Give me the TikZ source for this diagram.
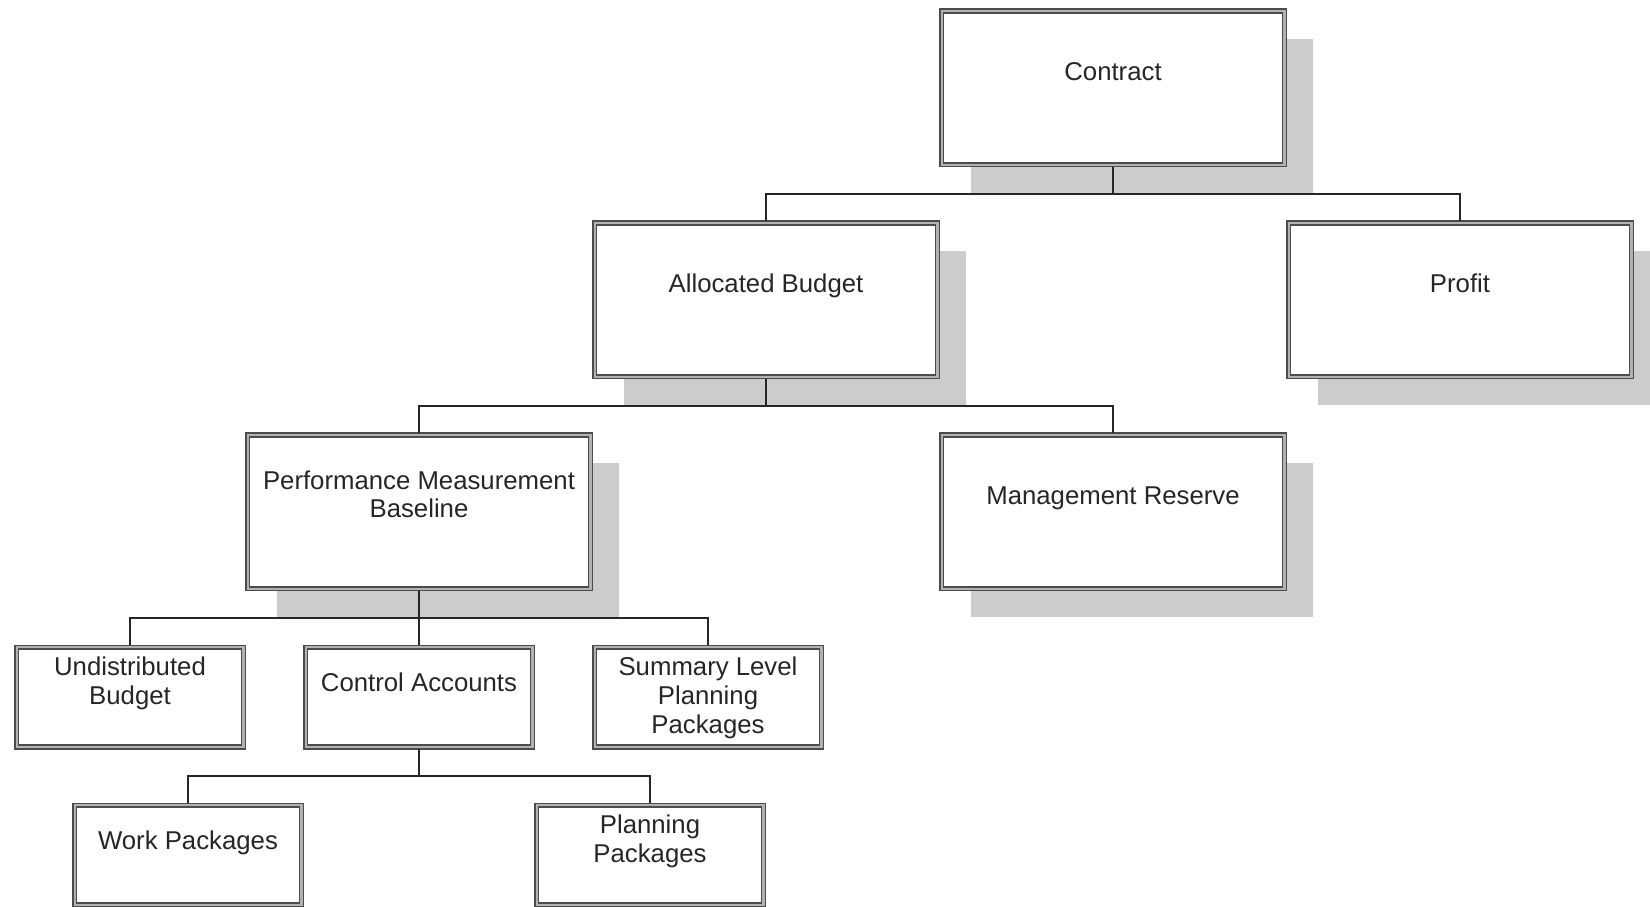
\documentclass[tikz,border=0pt]{standalone}
\usepackage{fontspec}
\setmainfont{Liberation Sans}
\usetikzlibrary{positioning, shadows}

\tikzset{
  frame/.style={draw=black!70, double=black!30, line width=0.6pt, double distance=0.9pt,
    fill=white, align=center, outer sep=0.85pt, text=black!85, text height=8pt,
    font=\fontsize{10.3pt}{11.4pt}\selectfont},
  bigbox/.style={frame, minimum width=137.1pt, minimum height=61.5pt, text depth=13.6pt,
    drop shadow={shadow xshift=11.6pt, shadow yshift=-11.3pt, fill=black!20, opacity=1}},
  smallbox/.style={frame, minimum width=90.7pt, minimum height=39.9pt, text depth=12.8pt},
  twolines/.style={text depth=#1},
  threelines/.style={text height=28.8pt, text depth=0pt},
  link/.style={draw=black!85, line width=0.8pt},
  branch/.style={to path={(\tikztostart.south) -- ++(0,-10.8pt) -| (\tikztotarget.north)}}
}

\begin{document}
\begin{tikzpicture}[node distance=21.6pt and 0pt]
	\useasboundingbox (0,0) rectangle (660pt,-362.8pt);
	\clip (0,0) rectangle (660pt,-362.8pt);

	\node[bigbox]                   (contract) at (445.2pt,-35.2pt)        {Contract};
	\node[bigbox]                   (budget)   [below left=of contract]    {Allocated Budget};
	\node[bigbox]                   (profit)   [below right=of contract]   {Profit};
	\node[bigbox, twolines=3.2pt]   (pmb)      [below left=of budget]      {Performance Measurement\\Baseline};
	\node[bigbox]                   (reserve)  [below right=of budget]     {Management Reserve};
	\node[smallbox]                 (accounts) [below=of pmb]              {Control Accounts};
	\node[smallbox, twolines=2.4pt] (undist)   [left=23.2pt of accounts]   {Undistributed\\Budget};
	\node[smallbox, threelines]     (summary)  [right=23.2pt of accounts]  {Summary Level\\Planning\\Packages};
	\node[smallbox]                 (work)     [below left=of accounts]    {Work Packages};
	\node[smallbox, twolines=2.4pt] (planning) [below right=of accounts]   {Planning\\Packages};

	\path[link] (contract) edge[branch] (budget) edge[branch] (profit);
	\path[link] (budget) edge[branch] (pmb) edge[branch] (reserve);
	\path[link] (pmb) edge[branch] (undist) edge[branch] (accounts) edge[branch] (summary);
	\path[link] (accounts) edge[branch] (work) edge[branch] (planning);
\end{tikzpicture}
\end{document}
